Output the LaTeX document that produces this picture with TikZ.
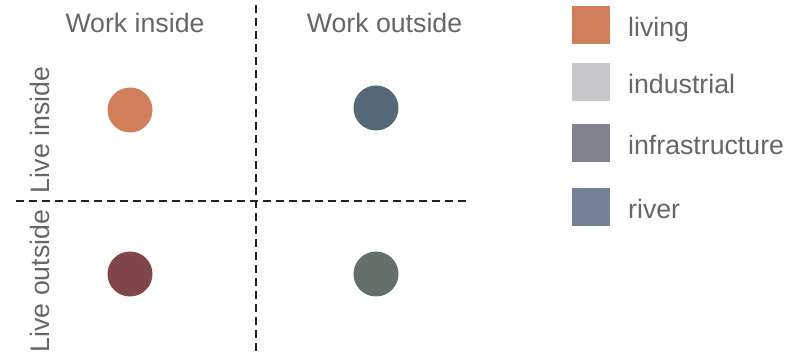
\documentclass[tikz,border=0pt]{standalone}
\usepackage{fontspec}
\setmainfont{Liberation Sans}
\definecolor{txt}{HTML}{666666}
\definecolor{cliving}{HTML}{CF7F5A}
\definecolor{cindustrial}{HTML}{C8C8CC}
\definecolor{cinfra}{HTML}{80838F}
\definecolor{criver}{HTML}{738294}
\definecolor{cslate}{HTML}{566777}
\definecolor{cmaroon}{HTML}{80464A}
\definecolor{cgreen}{HTML}{636F69}
\definecolor{cline}{HTML}{222222}
\begin{document}
\begin{tikzpicture}[x=1pt,y=-1pt,
  lbl/.style={text=txt,font=\fontsize{26.7}{30}\selectfont,inner sep=0pt},
  dot/.style={circle,minimum size=45pt,inner sep=0pt,draw=none},
  sq/.style={rectangle,minimum size=38pt,inner sep=0pt,draw=none},
  divider/.style={draw=cline,line width=2pt,dash pattern=on 8pt off 5pt}]
\useasboundingbox (0,0) rectangle (795,355);
\coordinate (vtop) at (256,5);
\coordinate (vbot) at (256,352);
\coordinate (hl) at (16,201);
\coordinate (hr) at (469,201);
\draw[divider] (vtop) -- (vbot);
\draw[divider] (hl) -- (hr);
\node[lbl,anchor=base] (wi) at (135,33) {Work inside};
\node[lbl,anchor=base] (wo) at (384.5,33) {Work outside};
\node[lbl,anchor=base,rotate=90] (li) at (49,130) {Live inside};
\node[lbl,anchor=base,rotate=90] (lo) at (49,281) {Live outside};
\node[dot,fill=cliving] (d1) at (130,110) {};
\node[dot,fill=cslate] (d2) at (376,108) {};
\node[dot,fill=cmaroon] (d3) at (130,274) {};
\node[dot,fill=cgreen] (d4) at (376,274) {};
\node[sq,fill=cliving] (s1) at (591,25) {};
\node[sq,fill=cindustrial] (s2) at (591,82) {};
\node[sq,fill=cinfra] (s3) at (591,143) {};
\node[sq,fill=criver] (s4) at (591,207) {};
\node[lbl,anchor=base west] (t1) at (628,37) {living};
\node[lbl,anchor=base west] (t2) at (628,94) {industrial};
\node[lbl,anchor=base west] (t3) at (628,155) {infrastructure};
\node[lbl,anchor=base west] (t4) at (628,219) {river};
\end{tikzpicture}
\end{document}
